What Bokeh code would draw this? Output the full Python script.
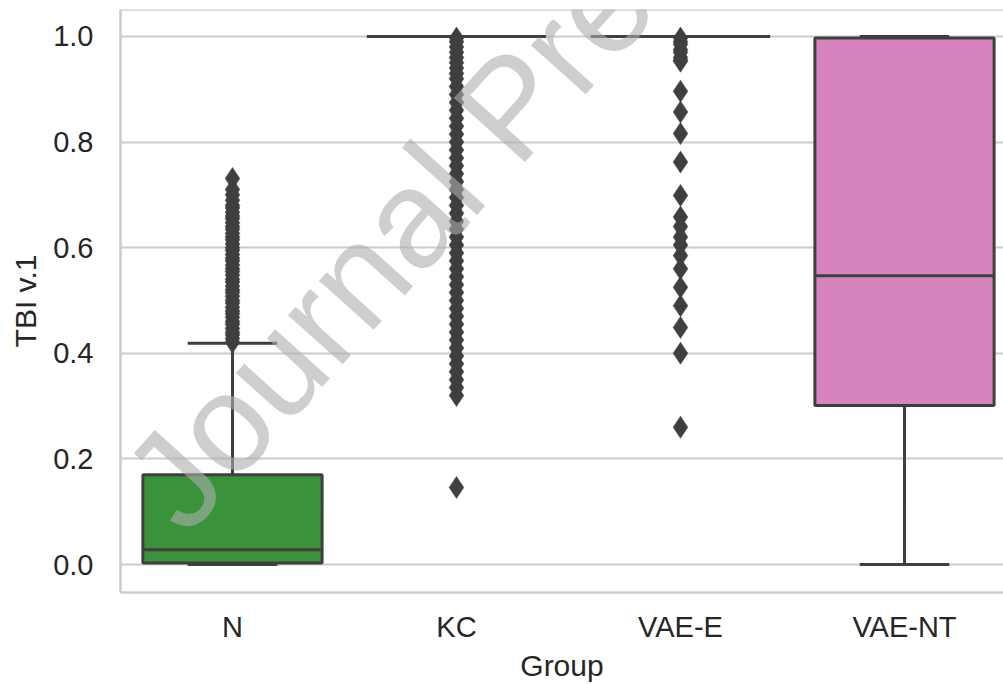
from bokeh.plotting import figure
from bokeh.models import Range1d, FixedTicker, Span, Label
from bokeh.embed import file_html
from bokeh.resources import INLINE

# Box-plot summary per group
groups = ["N", "KC", "VAE-E", "VAE-NT"]
box_colors = ["#3a923a", "#e1812c", "#c03d3e", "#d684bd"]
q1 = [0.003, 1.0, 1.0, 0.301]
median = [0.028, 1.0, 1.0, 0.547]
q3 = [0.170, 1.0, 1.0, 0.997]
whisker_low = [0.0, 1.0, 1.0, 0.0]
whisker_high = [0.419, 1.0, 1.0, 1.0]

# Fliers per group
outliers_n = [0.421, 0.428, 0.435, 0.440, 0.447, 0.455, 0.460, 0.468, 0.475,
              0.480, 0.487, 0.495, 0.500, 0.508, 0.515, 0.520, 0.527, 0.535,
              0.540, 0.548, 0.555, 0.560, 0.567, 0.575, 0.580, 0.587, 0.595,
              0.600, 0.607, 0.615, 0.620, 0.627, 0.635, 0.640, 0.647, 0.655,
              0.660, 0.667, 0.675, 0.680, 0.690, 0.700, 0.710, 0.731]
outliers_kc = [0.997, 0.990, 0.980, 0.970, 0.960, 0.950, 0.940, 0.930, 0.920,
               0.905, 0.890, 0.875, 0.860, 0.845, 0.830, 0.815, 0.800, 0.785,
               0.770, 0.755, 0.740, 0.725, 0.710, 0.695, 0.680, 0.665, 0.650,
               0.635, 0.620, 0.605, 0.590, 0.575, 0.560, 0.545, 0.530, 0.515,
               0.500, 0.485, 0.470, 0.455, 0.440, 0.425, 0.410, 0.395, 0.380,
               0.365, 0.350, 0.335, 0.320, 0.146]
outliers_vae_e = [0.997, 0.990, 0.985, 0.975, 0.970, 0.960, 0.955, 0.953,
                  0.896, 0.857, 0.816, 0.762, 0.699, 0.658, 0.640, 0.620,
                  0.605, 0.585, 0.560, 0.525, 0.490, 0.449, 0.400, 0.260]
outliers = [outliers_n, outliers_kc, outliers_vae_e, []]

y_ticks = [0.0, 0.2, 0.4, 0.6, 0.8, 1.0]

EDGE = "#3f3f3f"
TEXT = "#262626"
SPINE = "#cccccc"
FONT = "Liberation Sans"

xs = list(range(len(groups)))

p = figure(width=1003, height=684, output_backend="svg", toolbar_location=None,
           x_range=Range1d(-0.5, 3.442), y_range=Range1d(-0.053, 1.051),
           min_border_left=120, min_border_right=0, min_border_top=9,
           min_border_bottom=92)
p.background_fill_color = "white"
p.border_fill_color = "white"
p.outline_line_color = None

# grid / spines
p.xgrid.grid_line_color = None
p.ygrid.grid_line_color = SPINE
p.ygrid.grid_line_width = 2
p.ygrid.ticker = FixedTicker(ticks=y_ticks)
p.add_layout(Span(location=1.051, dimension="width", line_color=SPINE,
                  line_width=2.5))

# whiskers
p.segment(x0=xs, y0=q3, x1=xs, y1=whisker_high, line_color=EDGE, line_width=3)
p.segment(x0=xs, y0=q1, x1=xs, y1=whisker_low, line_color=EDGE, line_width=3)

# boxes
p.vbar(x=xs, width=0.8, bottom=q1, top=q3, fill_color=box_colors,
       line_color=EDGE, line_width=3)

# medians
p.segment(x0=[x - 0.4 for x in xs], y0=median, x1=[x + 0.4 for x in xs],
          y1=median, line_color=EDGE, line_width=3)

# caps
for vals in (whisker_low, whisker_high):
    p.segment(x0=[x - 0.2 for x in xs], y0=vals, x1=[x + 0.2 for x in xs],
              y1=vals, line_color=EDGE, line_width=3)

# fliers
fx, fy = [], []
for x, vals in zip(xs, outliers):
    fx += [x] * len(vals)
    fy += vals
p.scatter(x=fx, y=fy, marker="diamond", size=22, fill_color=EDGE,
          line_color=EDGE, line_width=0.5)

# axes
p.xaxis.ticker = FixedTicker(ticks=xs)
p.xaxis.major_label_overrides = {x: g for x, g in zip(xs, groups)}
p.yaxis.ticker = FixedTicker(ticks=y_ticks)
p.yaxis.major_label_overrides = {t: f"{t:.1f}" for t in y_ticks}
p.xaxis.axis_label = "Group"
p.yaxis.axis_label = "TBI v.1"
for ax in (p.xaxis[0], p.yaxis[0]):
    ax.axis_line_color = SPINE
    ax.axis_line_width = 2.5
    ax.major_tick_line_color = None
    ax.minor_tick_line_color = None
    ax.major_tick_out = 0
    ax.major_tick_in = 0
    ax.minor_tick_out = 0
    ax.minor_tick_in = 0
    ax.major_label_text_font = FONT
    ax.major_label_text_font_size = "29px"
    ax.major_label_text_color = TEXT
    ax.axis_label_text_font = FONT
    ax.axis_label_text_font_size = "30px"
    ax.axis_label_text_font_style = "normal"
    ax.axis_label_text_color = TEXT
p.xaxis.major_label_standoff = 18
p.xaxis.axis_label_standoff = 3
p.yaxis.major_label_standoff = 27
p.yaxis.axis_label_standoff = 8

# watermark
p.add_layout(Label(x=1.2366, y=0.8674, text="Journal Pre-proof", angle=48,
                   angle_units="deg", text_align="center",
                   text_baseline="middle", text_font=FONT,
                   text_font_size="139px", text_color="#adadad",
                   text_alpha=0.6))

open("out.html", "w").write(file_html(p, INLINE))
